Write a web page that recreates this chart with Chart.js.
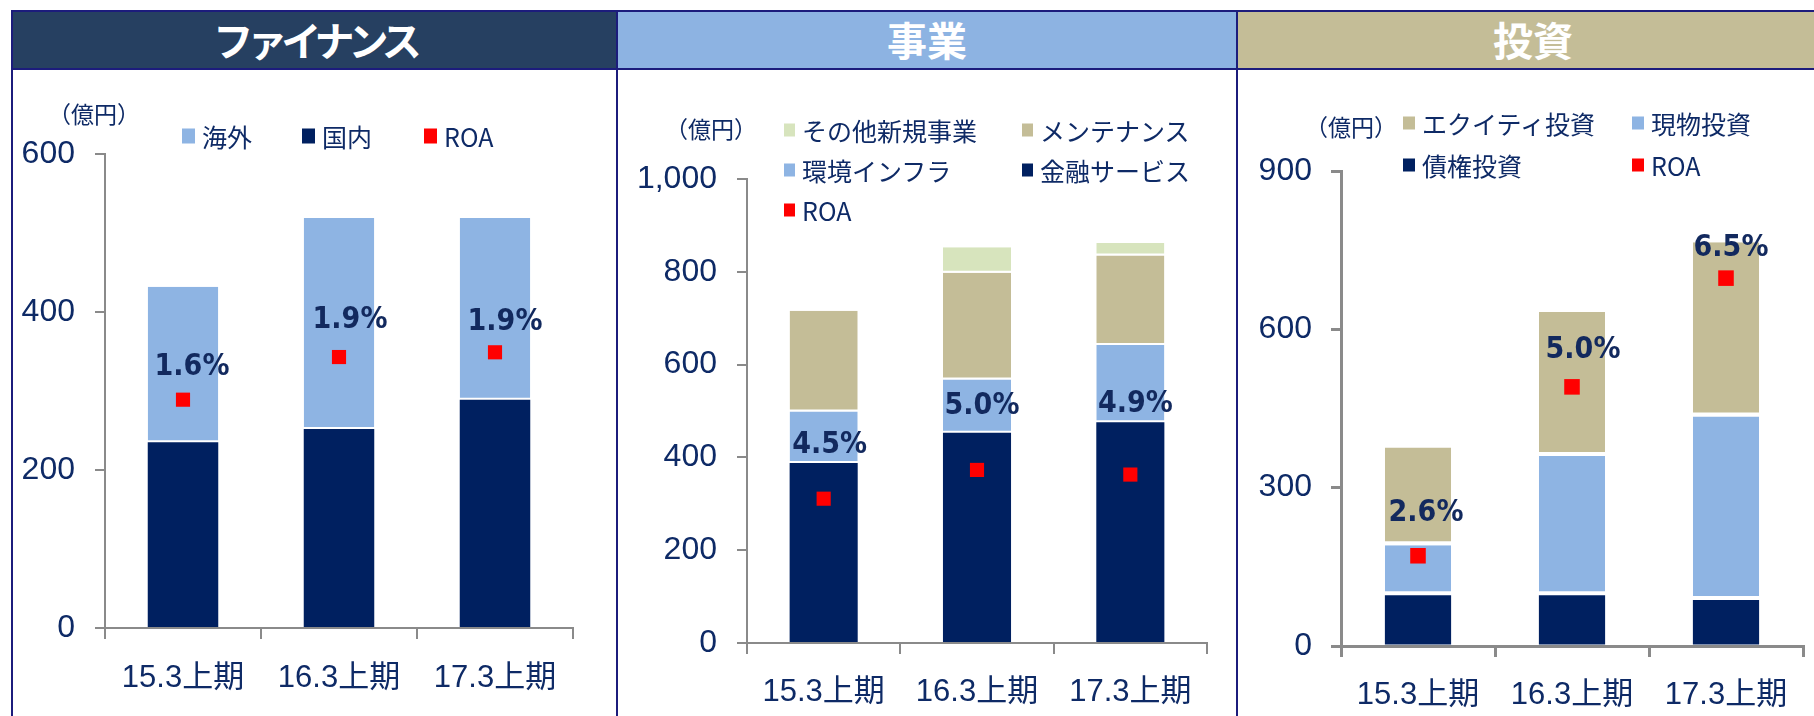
<!DOCTYPE html>
<html lang="ja">
<head>
<meta charset="utf-8">
<title>ファイナンス・事業・投資</title>
<script src="https://cdn.jsdelivr.net/npm/chart.js@4.4.1/dist/chart.umd.min.js"></script>
<style>
  html, body { margin: 0; padding: 0; background: #fff; }
  body { width: 1814px; height: 716px; position: relative; overflow: hidden; font-family: 'Noto Sans CJK JP', sans-serif; }
  .panel { position: absolute; top: 10px; height: 720px; box-sizing: border-box; border-left: 2px solid #1c1c7c; }
  .head { height: 60px; box-sizing: border-box; border-top: 2px solid #1c1c7c; border-bottom: 2px solid #1c1c7c;
          color: #fff; font-weight: bold; font-size: 40px; text-align: center; line-height: 54px; }
  canvas { position: absolute; top: 0; }
  .txt { position: absolute; color: #0e2a66; white-space: nowrap; transform: translateY(-50%); line-height: 1; }
  .sw { position: absolute; transform: translateY(-50%); }
</style>
</head>
<body>

<div class="panel" style="left:11px; width:605px;"><div class="head" style="background:#264061; letter-spacing:-6px;">ファイナンス</div></div>
<div class="panel" style="left:616px; width:620px;"><div class="head" style="background:#8db3e2;">事業</div></div>
<div class="panel" style="left:1236px; width:592px;"><div class="head" style="background:#c4bd97;">投資</div></div>

<script>
const categories = ['15.3上期', '16.3上期', '17.3上期'];

// ファイナンス（億円）
const finDomestic = [235, 252, 289];
const finOverseas = [197, 267, 230];
const finRoaMark = [289, 343, 349];
const finRoa = ['1.6%', '1.9%', '1.9%'];
const finTicks = [0, 200, 400, 600];

// 事業（億円）
const bizFinance = [388, 453, 476];
const bizInfra = [111, 115, 166];
const bizMainte = [217, 230, 193];
const bizOther = [0, 55, 27];
const bizRoaMark = [311, 373, 363];
const bizRoa = ['4.5%', '5.0%', '4.9%'];
const bizTicks = [0, 200, 400, 600, 800, 1000];

// 投資（億円）
const invDebt = [96, 96, 87];
const invPhysical = [95, 264, 348];
const invEquity = [185, 273, 330];
const invRoaMark = [171, 491, 697];
const invRoa = ['2.6%', '5.0%', '6.5%'];
const invTicks = [0, 300, 600, 900];

const NAVY = '#002060';
const LIGHT = '#8eb4e3';
const TAN = '#c4bd97';
const GREEN = '#d7e4bd';
const RED = '#ff0000';
const INK = '#0e2a66';
const AXIS = '#8a8a8a';
const NUM_FONT = "'Liberation Sans Narrow', 'Liberation Sans', 'Noto Sans CJK JP', sans-serif";

// ROAの数値ラベル（赤い点の上）
const roaLabelPlugin = {
  id: 'roaLabels',
  afterDatasetsDraw(chart, args, opts) {
    const idx = chart.data.datasets.findIndex(d => d.label === 'ROA');
    const meta = chart.getDatasetMeta(idx);
    const ctx = chart.ctx;
    ctx.save();
    ctx.font = "bold 30px 'DejaVu Sans Condensed', 'Liberation Sans', sans-serif";
    ctx.fillStyle = '#12295e';
    ctx.textAlign = 'center';
    ctx.textBaseline = 'middle';
    meta.data.forEach((pt, i) => {
      ctx.fillText(opts.text[i], pt.x + opts.dx[i], pt.y + opts.dy[i]);
    });
    ctx.restore();
  }
};

function addText(str, x, y, size) {
  const el = document.createElement('div');
  el.className = 'txt';
  el.textContent = str;
  el.style.left = x + 'px';
  el.style.top = y + 'px';
  el.style.fontSize = size + 'px';
  document.body.appendChild(el);
}

function addLegend(items, spots, sw) {
  items.forEach((it, i) => {
    const [x, y] = spots[i];
    const box = document.createElement('div');
    box.className = 'sw';
    box.style.left = x + 'px';
    box.style.top = y + 'px';
    box.style.width = sw[0] + 'px';
    box.style.height = sw[1] + 'px';
    box.style.background = it.color;
    document.body.appendChild(box);
    addText(it.label, x + sw[0] + 7, y, 25);
  });
}

function drawPanel(p) {
  const cv = document.createElement('canvas');
  cv.width = p.width;
  cv.height = 716;
  cv.style.left = p.left + 'px';
  document.body.appendChild(cv);

  const datasets = p.bars.map((b, i) => ({
    type: 'bar',
    label: b.label,
    data: b.data,
    backgroundColor: b.color,
    borderColor: '#fff',
    borderSkipped: false,
    borderWidth: { top: 0, left: 0, right: 0, bottom: i === 0 ? 0 : p.gap },
    categoryPercentage: 1,
    barPercentage: p.barPct,
    stack: 'bar',
    order: 2
  }));
  datasets.push({
    type: 'line',
    label: 'ROA',
    data: p.roaMark,
    showLine: false,
    pointStyle: 'rect',
    pointRadius: p.pointR,
    pointHoverRadius: p.pointR,
    backgroundColor: RED,
    borderColor: RED,
    borderWidth: 0,
    stack: 'roa',
    order: 1
  });

  const ticks = p.ticks;
  new Chart(cv, {
    type: 'bar',
    data: { labels: categories, datasets: datasets },
    options: {
      responsive: false,
      animation: false,
      locale: 'en-US',
      layout: { padding: { left: 0, top: p.area.top, right: p.width - p.area.right, bottom: 0 } },
      plugins: {
        legend: { display: false },
        tooltip: { enabled: false },
        roaLabels: { text: p.roaText, dx: p.dx, dy: p.dy }
      },
      scales: {
        x: {
          stacked: true,
          afterFit: s => { s.height = 716 - p.area.bottom; },
          grid: { drawOnChartArea: false, offset: true, tickLength: 11, color: AXIS, lineWidth: p.axisW },
          border: { color: AXIS, width: p.axisW },
          ticks: { color: INK, font: { family: NUM_FONT, size: 31 }, padding: p.xPad }
        },
        y: {
          stacked: true,
          min: ticks[0],
          max: ticks[ticks.length - 1],
          afterFit: s => { s.width = p.area.left; },
          grid: { drawOnChartArea: false, tickLength: 10, color: AXIS, lineWidth: p.axisW },
          border: { color: AXIS, width: p.axisW },
          ticks: { stepSize: ticks[1] - ticks[0], color: INK, font: { family: NUM_FONT, size: 32 }, padding: p.yPad }
        }
      }
    },
    plugins: [roaLabelPlugin]
  });

  addText('（億円）', p.unit[0], p.unit[1], 23);
  const all = p.bars.concat([{ label: 'ROA', color: RED }]);
  const items = p.legendOrder.map(name => all.find(b => b.label === name));
  addLegend(items, p.legendSpots, p.swatch);
}

// ファイナンス
drawPanel({
  left: 11, width: 605,
  area: { left: 94, right: 562, top: 154, bottom: 628 },
  ticks: finTicks,
  bars: [
    { label: '国内', data: finDomestic, color: NAVY },
    { label: '海外', data: finOverseas, color: LIGHT }
  ],
  roaMark: finRoaMark, roaText: finRoa,
  dx: [9, 11, 10], dy: [-32, -37, -30],
  barPct: 0.452, gap: 2, axisW: 2, pointR: 10, yPad: 20, xPad: 21,
  unit: [48, 113],
  legendOrder: ['海外', '国内', 'ROA'],
  legendSpots: [[182, 136], [302, 136], [424, 136]],
  swatch: [13, 15]
});

// 事業
drawPanel({
  left: 616, width: 620,
  area: { left: 131, right: 591, top: 179, bottom: 643 },
  ticks: bizTicks,
  bars: [
    { label: '金融サービス', data: bizFinance, color: NAVY },
    { label: '環境インフラ', data: bizInfra, color: LIGHT },
    { label: 'メンテナンス', data: bizMainte, color: TAN },
    { label: 'その他新規事業', data: bizOther, color: GREEN }
  ],
  roaMark: bizRoaMark, roaText: bizRoa,
  dx: [6, 5, 5], dy: [-53, -64, -70],
  barPct: 0.444, gap: 2, axisW: 2, pointR: 10, yPad: 20, xPad: 20,
  unit: [665, 128],
  legendOrder: ['その他新規事業', 'メンテナンス', '環境インフラ', '金融サービス', 'ROA'],
  legendSpots: [[784, 130], [1022, 130], [784, 170], [1022, 170], [784, 210]],
  swatch: [11, 13]
});

// 投資
drawPanel({
  left: 1236, width: 578,
  area: { left: 105, right: 575, top: 171, bottom: 646 },
  ticks: invTicks,
  bars: [
    { label: '債権投資', data: invDebt, color: NAVY },
    { label: '現物投資', data: invPhysical, color: LIGHT },
    { label: 'エクイティ投資', data: invEquity, color: TAN }
  ],
  roaMark: invRoaMark, roaText: invRoa,
  dx: [8, 11, 5], dy: [-43, -37, -30],
  barPct: 0.43, gap: 4, axisW: 3, pointR: 11, yPad: 19, xPad: 20,
  unit: [1305, 126],
  legendOrder: ['エクイティ投資', '現物投資', '債権投資', 'ROA'],
  legendSpots: [[1403, 123], [1632, 123], [1403, 165], [1632, 165]],
  swatch: [12, 13]
});
</script>
</body>
</html>
